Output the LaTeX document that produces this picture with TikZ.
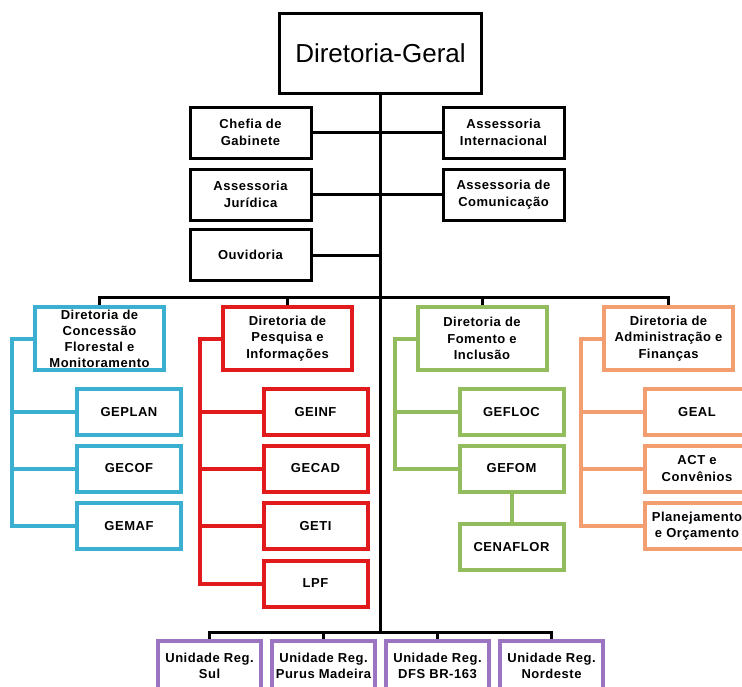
\documentclass[tikz,border=0pt]{standalone}
\usepackage{fontspec}
\setmainfont{Liberation Sans}
\newfontfamily\orgfont[LetterSpace=4]{Liberation Sans}

\definecolor{cfblue}{HTML}{3BAFD0}
\definecolor{pired}{HTML}{E11B1B}
\definecolor{figreen}{HTML}{93BC5E}
\definecolor{aforange}{HTML}{F29E70}
\definecolor{urpurple}{HTML}{9B74C2}

\tikzset{
	orgtext/.style={font=\orgfont\bfseries\fontsize{13}{16.5}\selectfont, align=center, inner sep=0pt, fill=white},
	bossbox/.style={draw, line width=3pt, minimum width=202pt, minimum height=80pt, fill=white, font=\fontsize{26}{30}\selectfont},
	staffbox/.style={orgtext, draw, line width=3pt, minimum width=121pt, minimum height=51pt},
	dirbox/.style={orgtext, draw=#1, line width=4pt, minimum width=129pt, minimum height=63pt},
	subbox/.style={orgtext, draw=#1, line width=4pt, minimum width=104pt, minimum height=46pt},
	unitbox/.style={orgtext, draw=urpurple, line width=4pt, minimum width=103pt, minimum height=50pt},
	link/.style={line width=3pt},
	branch/.style={draw=#1, line width=4pt},
}

\begin{document}
\begin{tikzpicture}[x=1pt, y=-1pt]
	\useasboundingbox (0,0) rectangle (742,686);
	\clip (0,0) rectangle (742,686);

	\coordinate (bus) at (380.5,297);
	\coordinate (ubus) at (380.5,632);

	\node [bossbox] (dg) at (380.5,53.5) {Diretoria-Geral};

	\node [staffbox] (chefia) at (250.5,132.5) {Chefia de\\Gabinete};
	\node [staffbox] (ajur) at (250.5,194.5) {Assessoria\\Jurídica};
	\node [staffbox] (ouv) at (250.5,255) {Ouvidoria};
	\node [staffbox] (aint) at (503.5,132.5) {Assessoria\\Internacional};
	\node [staffbox] (acom) at (503.5,194.5) {Assessoria de\\Comunicação};

	\node [dirbox=cfblue, font=\orgfont\bfseries\fontsize{13}{16}\selectfont] (dcf) at (99.5,338.5) {Diretoria de\\Concessão\\Florestal e\\Monitoramento};
	\node [dirbox=pired] (dpi) at (287.5,338.5) {Diretoria de\\Pesquisa e\\Informações};
	\node [dirbox=figreen] (dfi) at (482,338.5) {Diretoria de\\Fomento e\\Inclusão};
	\node [dirbox=aforange] (daf) at (668.5,338.5) {Diretoria de\\Administração e\\Finanças};

	\node [subbox=cfblue] (geplan) at (129,412) {GEPLAN};
	\node [subbox=cfblue] (gecof) at (129,468.5) {GECOF};
	\node [subbox=cfblue] (gemaf) at (129,526) {GEMAF};

	\node [subbox=pired] (geinf) at (315.5,412) {GEINF};
	\node [subbox=pired] (gecad) at (315.5,468.5) {GECAD};
	\node [subbox=pired] (geti) at (315.5,526) {GETI};
	\node [subbox=pired] (lpf) at (315.5,583.5) {LPF};

	\node [subbox=figreen] (gefloc) at (511.5,412) {GEFLOC};
	\node [subbox=figreen] (gefom) at (511.5,468.5) {GEFOM};
	\node [subbox=figreen] (cenaflor) at (511.5,547) {CENAFLOR};

	\node [subbox=aforange] (geal) at (697,412) {GEAL};
	\node [subbox=aforange] (act) at (697,468.5) {ACT e\\Convênios};
	\node [subbox=aforange] (plan) at (697,526) {Planejamento\\e Orçamento};

	\node [unitbox] (usul) at (209.5,666) {Unidade Reg.\\Sul};
	\node [unitbox] (upm) at (323.5,666) {Unidade Reg.\\Purus Madeira};
	\node [unitbox] (udfs) at (437.5,666) {Unidade Reg.\\DFS BR-163};
	\node [unitbox] (une) at (551.5,666) {Unidade Reg.\\Nordeste};

	\draw [link] (dg.south) -- (ubus);
	\draw [link] (chefia.east) -- (aint.west);
	\draw [link] (ajur.east) -- (acom.west);
	\draw [link] (ouv.east) -- (ouv.east -| dg.south);

	\draw [link] (dcf.north) |- (bus -| daf.north) -- (daf.north);
	\draw [link] (dpi.north) -- (dpi.north |- bus);
	\draw [link] (dfi.north) -- (dfi.north |- bus);

	\draw [link] (usul.north) |- (ubus -| une.north) -- (une.north);
	\draw [link] (upm.north) -- (upm.north |- ubus);
	\draw [link] (udfs.north) -- (udfs.north |- ubus);

	\draw [branch=cfblue] (dcf.west) -- ++(-21,0) coordinate (cfs) |- (gemaf.west);
	\foreach \n in {geplan,gecof}
		\draw [branch=cfblue] (\n.west) -- (\n.west -| cfs);

	\draw [branch=pired] (dpi.west) -- ++(-21,0) coordinate (pis) |- (lpf.west);
	\foreach \n in {geinf,gecad,geti}
		\draw [branch=pired] (\n.west) -- (\n.west -| pis);

	\draw [branch=figreen] (dfi.west) -- ++(-21,0) |- (gefom.west);
	\draw [branch=figreen] (gefloc.west) -- ++(-63.5,0);
	\draw [branch=figreen] (gefom.south) -- (cenaflor.north);

	\draw [branch=aforange] (daf.west) -- ++(-21,0) coordinate (afs) |- (plan.west);
	\foreach \n in {geal,act}
		\draw [branch=aforange] (\n.west) -- (\n.west -| afs);
\end{tikzpicture}
\end{document}
